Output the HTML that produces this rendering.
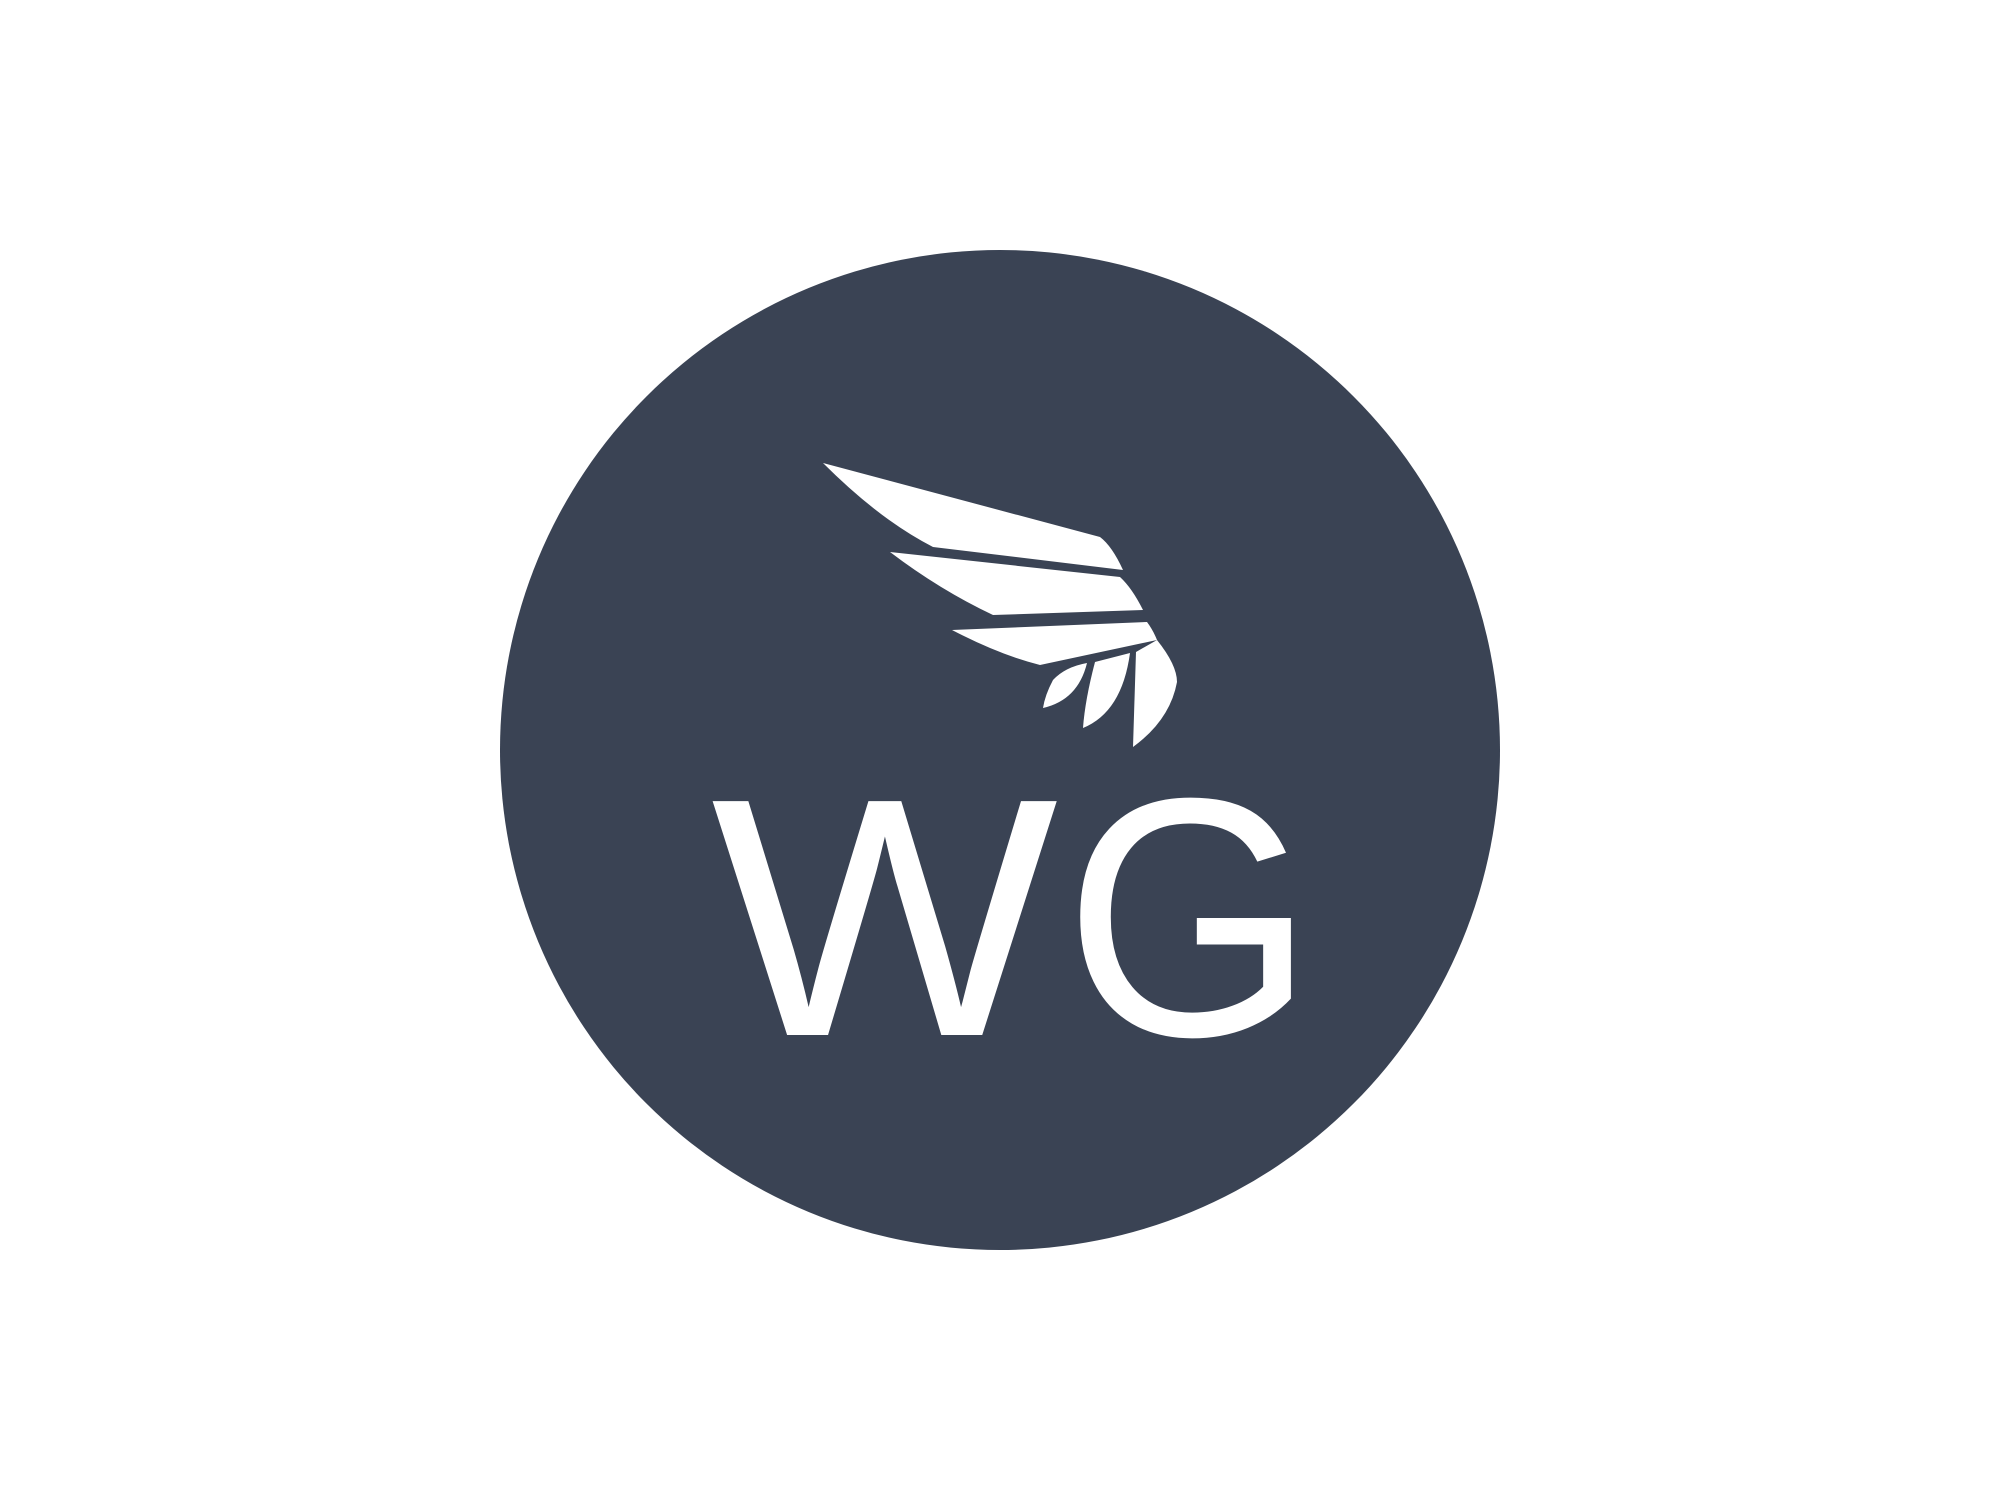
<!DOCTYPE html>
<html><head><meta charset="utf-8"><style>html,body{margin:0;padding:0;background:#fff;width:2000px;height:1500px;overflow:hidden}</style></head>
<body>
<svg width="2000" height="1500" viewBox="0 0 2000 1500">
<circle cx="1000" cy="750" r="500" fill="#3a4354"/>
<g fill="#fff">
<path d="M823,463 L1100,537 Q1112,546 1123,570 L933,547 Q880,520 823,463 Z"/>
<path d="M890,552 L1120,577 Q1132,588 1143,610 L993,615 Q940,590 890,552 Z"/>
<path d="M952,630 L1147,622 Q1153,630 1157,640 L1040,665 Q1000,655 952,630 Z"/>
<path d="M1087,663 Q1065,667 1053,680 Q1045,695 1043,708 Q1078,700 1087,663 Z"/>
<path d="M1130,653 L1095,662 Q1085,700 1083,728 Q1122,712 1130,653 Z"/>
<path d="M1136,652 L1157,640 Q1177,665 1177,682 Q1170,720 1133,747 Z"/>
</g>
<text x="711" y="1035" font-family="Liberation Sans, sans-serif" font-size="340" fill="#fff" textLength="347" lengthAdjust="spacingAndGlyphs">W</text>
<text x="1064" y="1035" font-family="Liberation Sans, sans-serif" font-size="340" fill="#fff" textLength="251" lengthAdjust="spacingAndGlyphs">G</text>
</svg>
</body></html>
